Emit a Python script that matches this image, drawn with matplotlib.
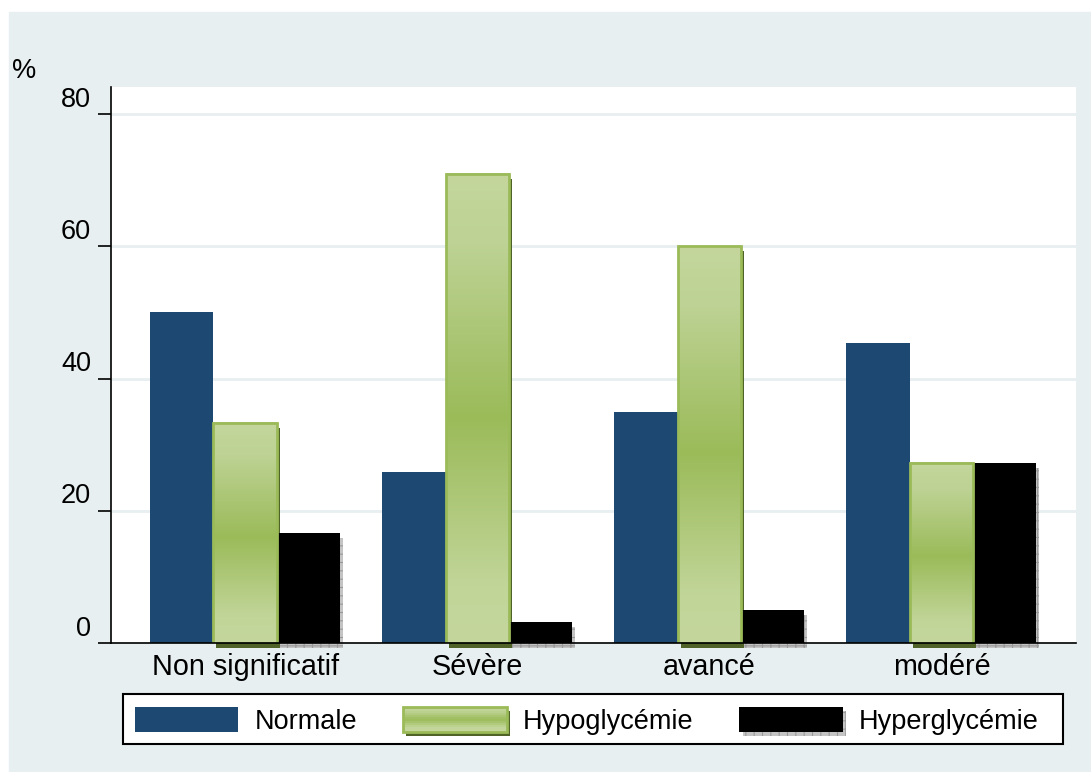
import numpy as np
import matplotlib
matplotlib.use("Agg")
import matplotlib.pyplot as plt
from matplotlib.patches import Rectangle
from matplotlib.colors import LinearSegmentedColormap
from matplotlib.transforms import offset_copy, ScaledTranslation

plt.rcParams['font.family'] = ['Liberation Sans', 'DejaVu Sans']
plt.rcParams['hatch.linewidth'] = 0.8

# data (% per stage)
categories = ["Non significatif", "Sévère", "avancé", "modéré"]
normale = [50.0, 25.8, 35.0, 45.45]
hypo = [33.3, 71.0, 60.0, 27.27]
hyper = [16.7, 3.2, 5.0, 27.27]
series_names = ["Normale", "Hypoglycémie", "Hyperglycémie"]
yticks = [0, 20, 40, 60, 80]

FS = 19.5
BG = "#e8eff1"
BLUE = "#1d4871"
GREEN = "#9bbb59"
GREEN_LIGHT = "#c4d69c"
GREEN_SHADOW = "#4f6228"
SHADOW_GREY = "#c4c4c4"

green_grad = LinearSegmentedColormap.from_list(
    "hypo", [(0.0, GREEN_LIGHT), (0.15, "#bdd294"), (0.52, GREEN),
             (0.88, "#c1d599"), (1.0, GREEN_LIGHT)])

W, H = 1091, 772
fig = plt.figure(figsize=(W / 100, H / 100), dpi=100)
fig.patch.set_facecolor("white")
fig.add_artist(Rectangle((9 / W, 0), 1 - 9 / W, 1 - 12 / H,
                         transform=fig.transFigure, color=BG, zorder=-10))

ax = fig.add_axes([111 / W, 1 - 643 / H, (1076 - 111) / W, (643 - 87) / H])
ax.set_facecolor("white")

x = np.arange(len(categories))
bw = 0.273
xn, xh, xy = x - bw, x, x + bw

# drop shadows, shifted a few pixels right/down
sh = offset_copy(ax.transData, fig=fig, x=3, y=-5, units="dots")
ax.bar(xh, hypo, bw, color=GREEN_SHADOW, transform=sh, zorder=1.5, clip_on=False)
ax.bar(xy, hyper, bw, facecolor=SHADOW_GREY, edgecolor="#9a9a9a", hatch="++",
       linewidth=0, transform=sh, zorder=1.5, clip_on=False)

ax.bar(xn, normale, bw, color=BLUE, zorder=2)
ax.bar(xy, hyper, bw, color="black", zorder=2)

# gradient-filled hypoglycemia bars
grad = np.linspace(0, 1, 256).reshape(-1, 1)
for xi, v in zip(xh, hypo):
    ax.imshow(grad, cmap=green_grad, aspect="auto", origin="upper",
              extent=(xi - bw / 2, xi + bw / 2, 0, v), zorder=2.2)
ax.bar(xh, hypo, bw, fill=False, edgecolor=GREEN, linewidth=2, zorder=2.4)

ax.set_xlim(-0.578, 3.58)
ax.set_ylim(0, 84.1)
ax.set_yticks(yticks)
ax.set_xticks(x)
ax.set_xticklabels(categories, fontsize=20.7)
ax.tick_params(axis="x", length=0, pad=7)
ax.tick_params(axis="y", direction="out", length=9.4, width=1.2, pad=5,
               labelsize=FS)
for lab in ax.get_yticklabels():
    lab.set_verticalalignment("bottom")
    lab.set_transform(lab.get_transform() +
                      ScaledTranslation(0, 1 / 72, fig.dpi_scale_trans))

ax.yaxis.grid(True, color=BG, linewidth=2)
ax.set_axisbelow(True)
for s in ("top", "right"):
    ax.spines[s].set_visible(False)
ax.spines["left"].set_linewidth(1.2)
ax.spines["bottom"].set_linewidth(1.2)
ax.spines["bottom"].set_zorder(3)

fig.text(12 / W, 1 - 78 / H, "%", fontsize=FS, va="baseline")


# legend keys with their own shadows
class BarKey:
    def __init__(self, face, shadow=None, hatch=False, gradient=False):
        self.face, self.shadow = face, shadow
        self.hatch, self.gradient = hatch, gradient


class BarKeyHandler:
    def legend_artist(self, legend, orig, fontsize, handlebox):
        x0, y0 = -handlebox.xdescent, -handlebox.ydescent
        w, h = handlebox.width, handlebox.height
        tr = handlebox.get_transform()
        d = 2.2
        if orig.shadow is not None:
            kw = dict(facecolor=orig.shadow, linewidth=0)
            if orig.hatch:
                kw.update(hatch="++", edgecolor="#9a9a9a")
            handlebox.add_artist(Rectangle((x0 + d, y0 - d * 1.3), w, h,
                                           transform=tr, **kw))
        if orig.gradient:
            n = 12
            cols = green_grad(np.linspace(0, 1, n))
            for i in range(n):
                handlebox.add_artist(Rectangle(
                    (x0, y0 + h - (i + 1) * h / n), w, h / n + 0.05,
                    facecolor=cols[i], linewidth=0, transform=tr))
            handlebox.add_artist(Rectangle((x0, y0), w, h, fill=False,
                                           edgecolor=GREEN, linewidth=2,
                                           transform=tr))
        else:
            handlebox.add_artist(Rectangle((x0, y0), w, h, facecolor=orig.face,
                                           linewidth=0, transform=tr))
        return None


# legend box drawn separately so its width is independent of the entries
fig.add_artist(Rectangle((123 / W, 1 - 744 / H), 940 / W, 50 / H,
                         transform=fig.transFigure, facecolor="white",
                         edgecolor="black", linewidth=1.5, zorder=4))
keys = [BarKey(BLUE), BarKey(GREEN, GREEN_SHADOW, gradient=True),
        BarKey("black", SHADOW_GREY, hatch=True)]
leg = fig.legend(keys, series_names, handler_map={BarKey: BarKeyHandler()},
                 loc="center left", ncol=3, frameon=False,
                 bbox_to_anchor=(135 / W, 1 - 721 / H),
                 fontsize=FS, handlelength=103 / 27, handleheight=1.0,
                 handletextpad=0.6, columnspacing=1.7, borderpad=0,
                 borderaxespad=0)
leg.set_zorder(5)

fig.savefig("out.png", dpi=100)
